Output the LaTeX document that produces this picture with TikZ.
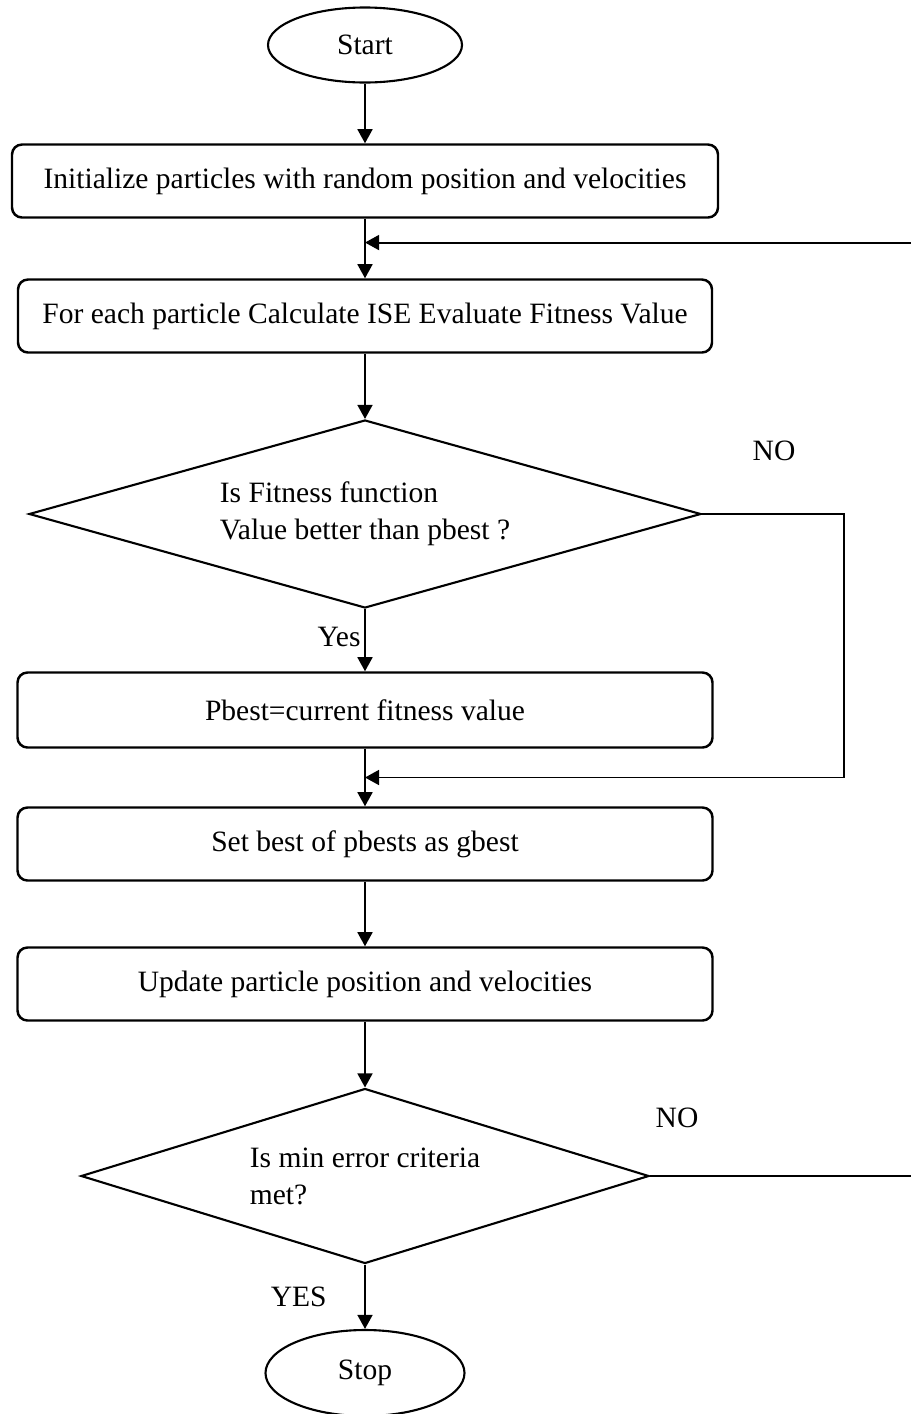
\documentclass[tikz,border=0pt]{standalone}
\usepackage{fontspec}
\setmainfont{Liberation Serif}
\usetikzlibrary{shapes.geometric,arrows.meta,calc,positioning}

\begin{document}
\begin{tikzpicture}[-,>={Triangle[length=8pt,width=8.5pt]},line width=1.1pt,auto,node distance=2.7cm,
    font=\fontsize{16.8}{21}\selectfont,
    term node/.style={ellipse,draw,line width=1.2pt,minimum width=3.88cm,minimum height=1.5cm,inner sep=0pt},
    step node/.style={rectangle,rounded corners=0.2cm,draw,line width=1.4pt,minimum width=13.9cm,minimum height=1.46cm},
    test node/.style={diamond,draw,line width=1.2pt,align=left,inner sep=0pt},
    loop line/.style={line width=0.6pt}]
            \useasboundingbox (0,0) rectangle (18.22,-28.28);

            \node[term node] (start) at (7.30,-0.90) {Start};
            \node[step node, minimum width=14.12cm] (init) [node distance=2.72cm, below of = start] {Initialize particles with random position and velocities};
            \node[step node, minimum width=13.88cm] (eval) [node distance=2.70cm, below of = init] {For each particle Calculate ISE Evaluate Fitness Value};
            \node[test node, minimum width=13.44cm, minimum height=3.76cm, aspect=3.57] (cmp) [node distance=3.96cm, below of = eval] {Is Fitness function\\Value better than pbest ?};
            \node[step node, minimum height=1.5cm] (pb) [node distance=3.92cm, below of = cmp] {Pbest=current fitness value};
            \node[step node] (gb) [node distance=2.68cm, below of = pb] {Set best of pbests as gbest};
            \node[step node] (upd) [node distance=2.80cm, below of = gb] {Update particle position and velocities};
            \node[test node, minimum width=11.36cm, minimum height=3.5cm, aspect=3.25] (stopq) [node distance=3.84cm, below of = upd] {Is min error criteria\\met?};
            \node[term node, minimum width=3.98cm, minimum height=1.72cm] (stop) [node distance=3.94cm, below of = stopq] {Stop};

            \node (no1) at ($(cmp.east)+(1.44,1.26)$) {NO};
            \node (no2) at ($(stopq.east)+(0.54,1.16)$) {NO};

            % where the loops come back in
            \coordinate (join1) at ($(init.south)!0.4!(eval.north)$);
            \coordinate (join2) at ($(pb.south)!0.5!(gb.north)$);
            \coordinate (loop) at (16.88,0);
            \coordinate (rim) at (18.22,0);

            \path[->]
                (start) edge (init)
                (init) edge (eval)
                (eval) edge (cmp)
                (cmp) edge node[swap, pos=0.45, inner sep=2pt] {Yes} (pb)
                (pb) edge (gb)
                (gb) edge (upd)
                (upd) edge (stopq)
                (stopq) edge node[swap, pos=0.5, inner sep=0.75cm] {YES} (stop)
                ;

            \draw[loop line] (cmp.east) -- (cmp.east -| loop) -- (join2 -| loop);
            \draw[->] (join2 -| loop) -- (join2);
            \draw[loop line] (stopq.east) -- (stopq.east -| rim);
            \draw[->] (join1 -| rim) -- (join1);
        \end{tikzpicture}
\end{document}
